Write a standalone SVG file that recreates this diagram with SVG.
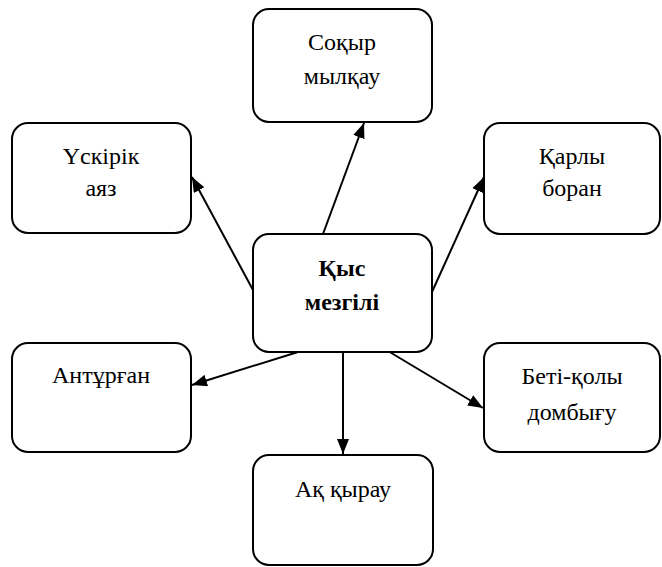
<svg xmlns="http://www.w3.org/2000/svg" width="662" height="567" viewBox="0 0 662 567">
<defs>
<style>
.box{fill:#fff;stroke:#000;stroke-width:2}
text{font-family:"Times New Roman","Liberation Serif",Tinos,"DejaVu Serif",serif;font-size:24px;fill:#000;text-anchor:middle}
.b{font-weight:bold}
.c{stroke:#000;stroke-width:2;fill:none;marker-end:url(#ah)}
</style>
<marker id="ah" markerUnits="userSpaceOnUse" markerWidth="16" markerHeight="12" refX="15" refY="6" orient="auto">
<path d="M0,0 L15,6 L0,12 Z" fill="#000"/>
</marker>
</defs>
<rect width="662" height="567" fill="#fff"/>
<g id="connectors">
<line class="c" x1="323" y1="234" x2="364" y2="123"/>
<line class="c" x1="253" y1="290" x2="192" y2="177"/>
<line class="c" x1="432" y1="292" x2="484" y2="177"/>
<line class="c" x1="298" y1="352" x2="192" y2="385"/>
<line class="c" x1="343" y1="352" x2="343" y2="454"/>
<line class="c" x1="388" y1="351" x2="483" y2="408"/>
</g>
<g id="n-top">
<rect class="box" x="253" y="9" width="179" height="113" rx="16"/>
<text x="342" y="50">Соқыр</text>
<text x="342" y="84">мылқау</text>
</g>
<g id="n-topleft">
<rect class="box" x="12" y="123" width="179" height="110" rx="16"/>
<text x="101" y="164">Үскірік</text>
<text x="101" y="196">аяз</text>
</g>
<g id="n-topright">
<rect class="box" x="484" y="123" width="176" height="111" rx="16"/>
<text x="572" y="164">Қарлы</text>
<text x="572" y="196">боран</text>
</g>
<g id="n-center">
<rect class="box" x="253" y="234" width="179" height="118" rx="16"/>
<text class="b" x="342" y="276">Қыс</text>
<text class="b" x="342" y="310">мезгілі</text>
</g>
<g id="n-left">
<rect class="box" x="12" y="343" width="179" height="109" rx="16"/>
<text x="101" y="383">Антұрған</text>
</g>
<g id="n-right">
<rect class="box" x="484" y="343" width="176" height="109" rx="16"/>
<text x="572" y="384">Беті-қолы</text>
<text x="572" y="420">домбығу</text>
</g>
<g id="n-bottom">
<rect class="box" x="253" y="455" width="180" height="110" rx="16"/>
<text x="343" y="497">Ақ қырау</text>
</g>
</svg>
